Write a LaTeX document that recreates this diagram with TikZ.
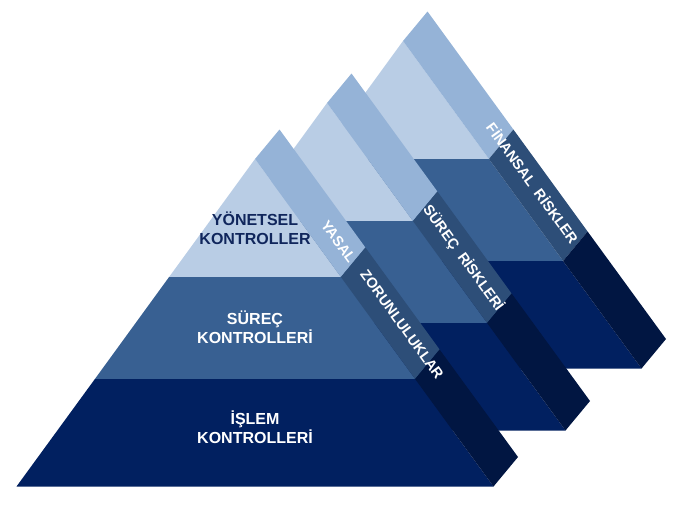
\documentclass[tikz,border=0pt]{standalone}
\usepackage{fontspec}
\setmainfont{Liberation Sans}
\begin{document}
\begin{tikzpicture}[x=1pt,y=-1pt]
  % palette: face colours and the darker tones of the slanted side strips
  \definecolor{topface}{RGB}{185,205,229}
  \definecolor{topside}{RGB}{149,179,215}
  \definecolor{midface}{RGB}{56,96,146}
  \definecolor{midside}{RGB}{45,78,120}
  \definecolor{lowface}{RGB}{1,32,96}
  \definecolor{lowside}{RGB}{1,22,66}
  \definecolor{labelnavy}{RGB}{16,38,92}
  \tikzset{
    % one stepped pyramid, apex of the front face at the origin
    pics/pyramid/.style={code={
      \fill[topface] (0,0) -- (85.9,118) -- (-85.9,118) -- cycle;
      \fill[midface] (-85.9,118) -- (85.9,118) -- (160.1,220) -- (-160.1,220) -- cycle;
      \fill[lowface] (-160.1,220) -- (160.1,220) -- (238.5,327.5) -- (-238.5,327.5) -- cycle;
      \fill[topside] (0,0) -- (24.5,-29.5) -- (110.4,88.5) -- (85.9,118) -- cycle;
      \fill[midside] (85.9,118) -- (110.4,88.5) -- (184.6,190.5) -- (160.1,220) -- cycle;
      \fill[lowside] (160.1,220) -- (184.6,190.5) -- (263,298) -- (238.5,327.5) -- cycle;
    }},
    band label/.style={font=\fontsize{16}{19}\selectfont\bfseries, align=center,
      text=white, inner sep=0pt},
    side label/.style={font=\fontsize{14.5}{16}\selectfont\bfseries, text=white,
      rotate=-54, inner sep=0pt},
  }
  \useasboundingbox (0,0) rectangle (685,517);

  % back to front
  \pic at (403,41) {pyramid};
  \pic at (327,103) {pyramid};
  \pic at (255,159) {pyramid};

  % front pyramid levels
  \node[band label, text=labelnavy] (yonetsel) at (255,228) {YÖNETSEL\\KONTROLLER};
  \node[band label] (surec) at (255,327) {SÜREÇ\\KONTROLLERİ};
  \node[band label] (islem) at (255,427) {İŞLEM\\KONTROLLERİ};

  % labels along the side strips
  \node[side label] (yasal) at (338.5,241.5) {YASAL};
  \node[side label] (zorunlu) at (402,324.5) {ZORUNLULUKLAR};
  \node[side label] (srisk) at (463.5,258) {SÜREÇ~~RİSKLERİ};
  \node[side label] (frisk) at (533,183) {FİNANSAL~~RİSKLER};
\end{tikzpicture}
\end{document}
